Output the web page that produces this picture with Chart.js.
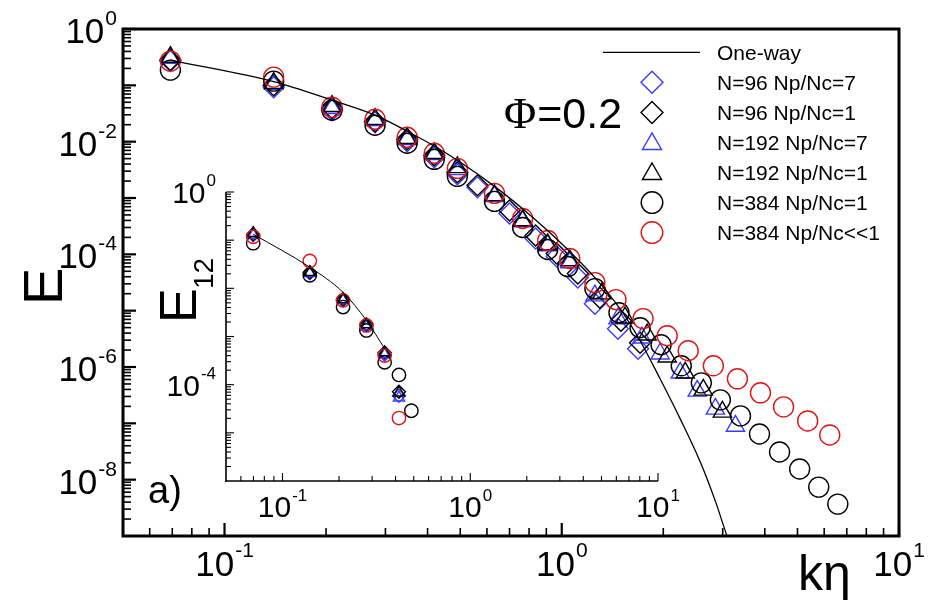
<!DOCTYPE html>
<html>
<head>
<meta charset="utf-8">
<script src="https://cdn.jsdelivr.net/npm/chart.js@4/dist/chart.umd.min.js"></script>
<style>
  html, body { margin: 0; padding: 0; background: #fff; }
  #wrap { position: relative; width: 933px; height: 602px; }
  #main { position: absolute; left: 0; top: 0; }
  #inset { position: absolute; left: 140px; top: 160px; }
</style>
</head>
<body>
<div id="wrap">
  <canvas id="main" width="933" height="602"></canvas>
  <canvas id="inset" width="540" height="370"></canvas>
</div>
<script>
// ---------- main panel: energy spectrum E(k eta) ----------
const oneWayK = [0.0691, 0.1399, 0.2083, 0.2795, 0.348, 0.4246, 0.4903, 0.6317, 0.7761, 0.921, 1.056, 1.254, 1.488, 1.707, 1.957, 2.245, 2.575, 2.854, 3.098, 3.273];
const oneWayE = [0.2808, 0.1164, 0.05453, 0.0295, 0.01531, 0.00795, 0.004667, 0.001608, 0.0006017, 0.0002443, 0.0001121, 3.866e-5, 1.085e-5, 2.93e-6, 6.17e-7, 1.2e-7, 2.06e-8, 4.16e-9, 9.52e-10, 3.87e-10];

const n96p7K = [0.0691, 0.1399, 0.2083, 0.2795, 0.348, 0.4188, 0.4903, 0.5623, 0.7, 0.8367, 0.9663, 1.116, 1.254, 1.468, 1.684];
const n96p7E = [0.2695, 0.0929, 0.0362, 0.02214, 0.01016, 0.005277, 0.00263, 0.001544, 0.0005321, 0.000191, 9.139e-5, 3.866e-5, 1.332e-5, 4.783e-6, 2.107e-6];

const n96p1K = [0.0691, 0.1399, 0.2083, 0.2795, 0.348, 0.4188, 0.4903, 0.5623, 0.7, 0.8367, 0.9663, 1.116, 1.297, 1.498, 1.707];
const n96p1E = [0.2808, 0.1008, 0.03929, 0.02307, 0.01103, 0.005728, 0.002854, 0.001676, 0.0006017, 0.000216, 0.0001033, 4.554e-5, 1.703e-5, 6.638e-6, 2.695e-6];

const n192p7K = [0.0691, 0.1399, 0.2083, 0.2795, 0.348, 0.4188, 0.4903, 0.6317, 0.7655, 0.9085, 1.056, 1.254, 1.468, 1.73, 1.957, 2.245, 2.522, 2.854, 3.273];
const n192p7E = [0.3048, 0.105, 0.03929, 0.02403, 0.01103, 0.005968, 0.003228, 0.001068, 0.0003833, 0.0001434, 7.147e-5, 1.849e-5, 7.21e-6, 3.308e-6, 1.718e-6, 7.884e-7, 3.772e-7, 1.804e-7, 8.989e-8];

const n192p1K = [0.0691, 0.1399, 0.2083, 0.2795, 0.348, 0.4188, 0.4903, 0.6317, 0.7655, 0.9085, 1.056, 1.315, 1.54, 1.791, 2.054, 2.323, 2.628, 2.994];
const n192p1E = [0.3176, 0.1094, 0.04265, 0.02504, 0.01149, 0.006216, 0.003503, 0.001112, 0.0003994, 0.0001494, 7.756e-5, 2.007e-5, 7.505e-6, 3.741e-6, 1.519e-6, 7.884e-7, 3.929e-7, 1.595e-7];

const n384p1K = [0.0691, 0.1399, 0.2083, 0.2795, 0.348, 0.4188, 0.4903, 0.6317, 0.7655, 0.9085, 1.042, 1.254, 1.478, 1.707, 1.97, 2.261, 2.593, 2.953, 3.388, 3.858, 4.424, 5.075, 5.781, 6.585];
const n384p1E = [0.1864, 0.1188, 0.0362, 0.01958, 0.009366, 0.004861, 0.002423, 0.00087, 0.0003, 0.0001217, 6.066e-5, 2.463e-5, 9.21e-6, 4.983e-6, 2.483e-6, 1.05e-6, 5.235e-7, 2.609e-7, 1.354e-7, 6.477e-8, 3.098e-8, 1.544e-8, 7.385e-9, 3.68e-9];

const n384llK = [0.0691, 0.1399, 0.2083, 0.2795, 0.348, 0.4188, 0.4903, 0.6317, 0.7655, 0.9085, 1.056, 1.254, 1.448, 1.742, 2.054, 2.371, 2.815, 3.318, 3.884, 4.547, 5.36, 6.232];
const n384llE = [0.2695, 0.1399, 0.04093, 0.02504, 0.01197, 0.006216, 0.003363, 0.001208, 0.0004335, 0.000176, 8.42e-5, 3.148e-5, 1.57e-5, 7.21e-6, 3.59e-6, 1.942e-6, 1.05e-6, 6.17e-7, 3.48e-7, 1.957e-7, 1.103e-7, 6.22e-8];

// ---------- inset: E12 ----------
const insetK = [0.0698, 0.1397, 0.2101, 0.2798, 0.3499, 0.4171, 0.4856];
const insetOneWayE = [0.1334, 0.02738, 0.008254, 0.002154, 0.0005623];
const inset96p7E  = [0.1271, 0.02054, 0.005623, 0.001695, 0.0004217, 5.902e-5];
const inset96p1E  = [0.1334, 0.02154, 0.005902, 0.001778, 0.0004642, 7.147e-5];
const inset192p7E = [0.1271, 0.02054, 0.005623, 0.001615, 0.0004217, 5.358e-5];
const inset192p1E = [0.1399, 0.02154, 0.005902, 0.001778, 0.0004642, 6.813e-5];
const inset384p1E = [0.0866, 0.01866, 0.004074, 0.001334, 0.0002917, 0.0001592, 2.872e-5];
const inset384llE = [0.1172, 0.03707, 0.005623, 0.001695, 0.0004018, 2.024e-5];

const seriesLabels = ['One-way', 'N=96 Np/Nc=7', 'N=96 Np/Nc=1', 'N=192 Np/Nc=7', 'N=192 Np/Nc=1', 'N=384 Np/Nc=1', 'N=384 Np/Nc<<1'];
const xTickExps = [-1, 0, 1];
const yTickExpsMain = [0, -2, -4, -6, -8];
const yTickExpsInset = [0, -4];

const BLUE = '#3b3bff', RED = '#e01414', BLACK = '#000';
const SANS = "'Liberation Sans', Arial, Helvetica, sans-serif";
const SERIF = "'Liberation Serif', 'DejaVu Serif', serif";

const pts = (k, e) => e.map((v, i) => ({ x: k[i], y: v }));

function lineSet(label, k, e, width) {
  return { label, data: pts(k, e), showLine: true, pointRadius: 0, borderColor: BLACK,
           borderWidth: width, fill: false, cubicInterpolationMode: 'monotone', order: 0 };
}
function markSet(label, k, e, style, color, r, order) {
  return { label, data: pts(k, e), showLine: false, pointStyle: style, pointRadius: r,
           pointBorderColor: color, pointBackgroundColor: 'rgba(0,0,0,0)', pointBorderWidth: 1.4,
           order };
}

// hollow marker, same geometry as the library's point styles
function symbol(ctx, style, x, y, r, color, lw) {
  ctx.save();
  ctx.strokeStyle = color; ctx.lineWidth = lw;
  ctx.beginPath();
  if (style === 'circle') {
    ctx.arc(x, y, r, 0, Math.PI * 2);
  } else if (style === 'triangle') {
    ctx.moveTo(x, y - r);
    ctx.lineTo(x + 0.866 * r, y + 0.5 * r);
    ctx.lineTo(x - 0.866 * r, y + 0.5 * r);
    ctx.closePath();
  } else if (style === 'rectRot') {
    ctx.moveTo(x - r, y); ctx.lineTo(x, y - r); ctx.lineTo(x + r, y); ctx.lineTo(x, y + r);
    ctx.closePath();
  }
  ctx.stroke();
  ctx.restore();
}

// "10" with a raised exponent
function pow10(ctx, exp, x, base, big, sup, rise, align) {
  ctx.font = big + 'px ' + SANS;
  const w10 = ctx.measureText('10').width;
  ctx.font = sup + 'px ' + SANS;
  const ws = ctx.measureText(String(exp)).width;
  const total = w10 + 1 + ws;
  const x0 = align === 'right' ? x - total : x - total / 2;
  ctx.textAlign = 'left'; ctx.textBaseline = 'alphabetic';
  ctx.font = big + 'px ' + SANS;
  ctx.fillText('10', x0, base);
  ctx.font = sup + 'px ' + SANS;
  ctx.fillText(String(exp), x0 + w10 + 1, base - rise);
}

function seg(ctx, x1, y1, x2, y2, lw) {
  ctx.lineWidth = lw;
  ctx.beginPath(); ctx.moveTo(x1, y1); ctx.lineTo(x2, y2); ctx.stroke();
}

function logTicks(lo, hi, fn) {
  for (let e = Math.floor(Math.log10(lo)) ; e <= Math.ceil(Math.log10(hi)); e++) {
    for (let m = 1; m <= 9; m++) {
      const v = m * Math.pow(10, e);
      if (v < lo * 1.0001 || v > hi * 1.0001) continue;
      fn(v, m === 1);
    }
  }
}

const mainDecor = {
  id: 'mainDecor',
  afterDraw(chart) {
    const { ctx, chartArea: a, scales: { x, y } } = chart;
    ctx.save();
    ctx.strokeStyle = BLACK; ctx.fillStyle = BLACK;
    ctx.lineWidth = 3;
    ctx.strokeRect(a.left, a.top, a.right - a.left, a.bottom - a.top);

    logTicks(1e-9, 1, (v, major) => {
      const py = y.getPixelForValue(v);
      seg(ctx, a.left, py, a.left + (major ? 13 : 8), py, major ? 2.2 : 1.6);
    });
    logTicks(0.05, 10, (v, major) => {
      if (v < 0.0501) return;
      const px = x.getPixelForValue(v);
      seg(ctx, px, a.bottom, px, a.bottom - (major ? 13 : 8), major ? 2.2 : 1.6);
    });

    yTickExpsMain.forEach(e => pow10(ctx, e, a.left - 6, y.getPixelForValue(Math.pow(10, e)) + 14, 35, 21, 18, 'right'));
    xTickExps.forEach(e => pow10(ctx, e, x.getPixelForValue(Math.pow(10, e)), a.bottom + 40, 35, 21, 19, 'center'));

    // axis titles and annotations
    ctx.textAlign = 'left'; ctx.textBaseline = 'alphabetic';
    ctx.font = '50px ' + SANS;
    ctx.fillText('k\u03B7', 798, 590);
    ctx.save();
    ctx.translate(62, 305); ctx.rotate(-Math.PI / 2);
    ctx.font = '56px ' + SANS;
    ctx.fillText('E', 0, 0);
    ctx.restore();
    ctx.font = '38px ' + SANS;
    ctx.fillText('a)', 148, 503);
    ctx.font = '44px ' + SERIF;
    ctx.fillText('\u03A6', 504, 128);
    const wPhi = ctx.measureText('\u03A6').width;
    ctx.font = '43px ' + SANS;
    ctx.fillText('=0.2', 504 + wPhi + 1, 128);

    // legend
    const ds = chart.data.datasets;
    const rowY = i => 52.3 + 30.05 * i;
    ctx.font = '21px ' + SANS;
    ds.forEach((d, i) => {
      const yy = rowY(i);
      if (d.showLine) {
        ctx.strokeStyle = BLACK;
        seg(ctx, 603, yy, 700, yy, 1.3);
      } else {
        const r = d.pointStyle === 'circle' ? 10.8 : 11;
        symbol(ctx, d.pointStyle, 652, yy + (d.pointStyle === 'triangle' ? 1.5 : 0), r, d.pointBorderColor, 1.4);
      }
      ctx.fillStyle = BLACK;
      ctx.fillText(d.label, 717, yy + 7.5);
    });
    ctx.restore();
  }
};

const insetDecor = {
  id: 'insetDecor',
  afterDraw(chart) {
    const { ctx, chartArea: a, scales: { x, y } } = chart;
    ctx.save();
    ctx.strokeStyle = BLACK; ctx.fillStyle = BLACK;
    seg(ctx, a.left, a.top, a.left, a.bottom + 0.75, 1.6);
    seg(ctx, a.left - 0.75, a.bottom, a.right, a.bottom, 1.6);
    logTicks(1e-6, 1, (v, major) => {
      const py = y.getPixelForValue(v);
      seg(ctx, a.left, py, a.left + (major ? 8 : 5), py, 1.1);
    });
    logTicks(0.05, 10, (v, major) => {
      if (v < 0.0501) return;
      const px = x.getPixelForValue(v);
      seg(ctx, px, a.bottom, px, a.bottom - (major ? 8 : 5), 1.1);
    });
    yTickExpsInset.forEach(e => pow10(ctx, e, a.left - 10, y.getPixelForValue(Math.pow(10, e)) + 11, 30, 17, 17, 'right'));
    xTickExps.forEach(e => pow10(ctx, e, x.getPixelForValue(Math.pow(10, e)), a.bottom + 36, 30, 17, 16, 'center'));

    // rotated E with subscript 12
    ctx.save();
    ctx.translate(a.left - 30, a.top + 131);
    ctx.rotate(-Math.PI / 2);
    ctx.textAlign = 'left'; ctx.textBaseline = 'alphabetic';
    ctx.font = '52px ' + SANS;
    ctx.fillText('E', 0, 0);
    ctx.font = '28px ' + SANS;
    ctx.fillText('12', 34, 17);
    ctx.restore();
    ctx.restore();
  }
};

function logAxis(min, max, size, dir) {
  return {
    type: 'logarithmic', min, max,
    grid: { display: false }, border: { display: false }, ticks: { display: false },
    afterFit(s) { if (dir === 'x') s.height = size; else s.width = size; }
  };
}

const baseOpts = {
  responsive: false, animation: false, devicePixelRatio: 1, events: [],
  plugins: { legend: { display: false }, tooltip: { enabled: false } }
};

new Chart(document.getElementById('main'), {
  type: 'scatter',
  data: {
    datasets: [
      lineSet(seriesLabels[0], oneWayK, oneWayE, 1.3),
      markSet(seriesLabels[1], n96p7K, n96p7E, 'rectRot', BLUE, 10.5, 6),
      markSet(seriesLabels[2], n96p1K, n96p1E, 'rectRot', BLACK, 10.5, 5),
      markSet(seriesLabels[3], n192p7K, n192p7E, 'triangle', BLUE, 10.5, 4),
      markSet(seriesLabels[4], n192p1K, n192p1E, 'triangle', BLACK, 10.5, 3),
      markSet(seriesLabels[5], n384p1K, n384p1E, 'circle', BLACK, 10, 2),
      markSet(seriesLabels[6], n384llK, n384llE, 'circle', RED, 10, 1)
    ]
  },
  options: Object.assign({}, baseOpts, {
    layout: { padding: { left: 0, top: 29, right: 34, bottom: 0 } },
    scales: { x: logAxis(0.05, 10, 66, 'x'), y: logAxis(1e-9, 1, 123, 'y') }
  }),
  plugins: [mainDecor]
});

new Chart(document.getElementById('inset'), {
  type: 'scatter',
  data: {
    datasets: [
      lineSet(seriesLabels[0], insetK, insetOneWayE, 1),
      markSet(seriesLabels[1], insetK, inset96p7E, 'rectRot', BLUE, 6.5, 6),
      markSet(seriesLabels[2], insetK, inset96p1E, 'rectRot', BLACK, 6.5, 5),
      markSet(seriesLabels[3], insetK, inset192p7E, 'triangle', BLUE, 6.5, 4),
      markSet(seriesLabels[4], insetK, inset192p1E, 'triangle', BLACK, 6.5, 3),
      markSet(seriesLabels[5], insetK, inset384p1E, 'circle', BLACK, 6.7, 2),
      markSet(seriesLabels[6], insetK, inset384llE, 'circle', RED, 6.7, 1)
    ]
  },
  options: Object.assign({}, baseOpts, {
    layout: { padding: { left: 0, top: 32, right: 22, bottom: 0 } },
    scales: { x: logAxis(0.05, 10, 49, 'x'), y: logAxis(1e-6, 1, 86, 'y') }
  }),
  plugins: [insetDecor]
});
</script>
</body>
</html>
